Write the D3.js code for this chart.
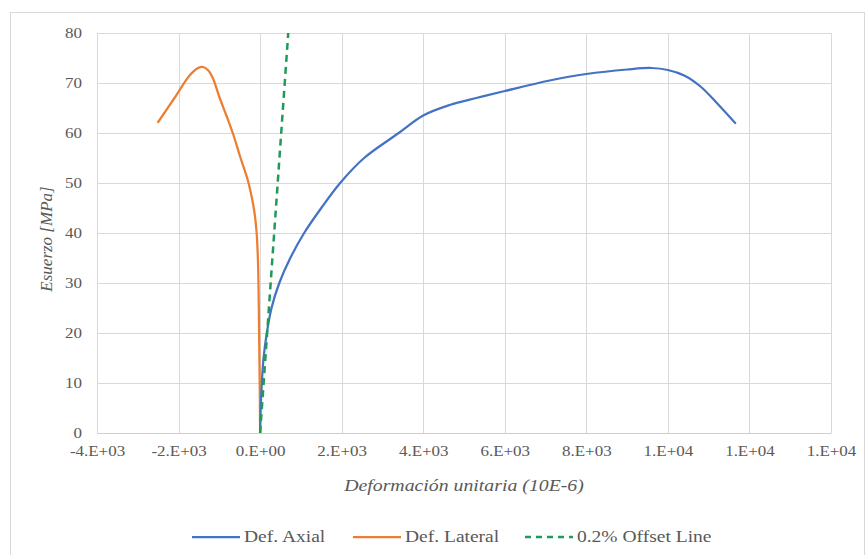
<!DOCTYPE html>
<html>
<head>
<meta charset="utf-8">
<script src="https://cdn.jsdelivr.net/npm/d3@7"></script>
<style>
  html, body { margin: 0; padding: 0; background: #ffffff; }
  svg { display: block; }
  text { font-family: "Liberation Serif", "Times New Roman", serif; }
</style>
</head>
<body>
<svg id="chart" width="866" height="555"></svg>
<script>
// ---- data ----
const xTicks = [-4000, -2000, 0, 2000, 4000, 6000, 8000, 10000, 12000, 14000];
const xTickLabels = ["-4.E+03", "-2.E+03", "0.E+00", "2.E+03", "4.E+03", "6.E+03", "8.E+03", "1.E+04", "1.E+04", "1.E+04"];
const yTicks = [0, 10, 20, 30, 40, 50, 60, 70, 80];
const yTickLabels = ["0", "10", "20", "30", "40", "50", "60", "70", "80"];

const seriesNames = ["Def. Axial", "Def. Lateral", "0.2% Offset Line"];

// Def. Axial: strain (10E-6) and stress (MPa)
const axialStrain = [0, 15, 42, 85, 164, 280, 470, 740, 1080, 1500, 1963, 2550, 3400, 4000, 4650, 5300, 6000, 7100, 8000, 9000, 9600, 10000, 10400, 10800, 11200, 11650];
const axialStress = [0, 5, 10, 15, 20, 25, 30, 35, 40, 45, 50, 55, 60, 63.5, 65.6, 67, 68.4, 70.5, 71.8, 72.7, 73, 72.6, 71.5, 69.3, 66, 62];

// Def. Lateral
const lateralStrain = [0, -10, -25, -40, -55, -85, -125, -170, -240, -300, -491, -650, -818, -1000, -1150, -1270, -1400, -1520, -1720, -2100, -2500];
const lateralStress = [0, 10, 20, 30, 35, 40, 43.3, 45.7, 48.5, 50.5, 55.3, 59.5, 63.3, 67.2, 70.8, 72.5, 73.2, 73, 71.6, 67, 62.2];

// 0.2% Offset Line
const offsetStrain = [0, 690];
const offsetStress = [0, 80];

const colors = ["#4472C4", "#ED7D31", "#1E9B57"];

// ---- layout ----
const svg = d3.select("#chart");
const plot = { left: 97, right: 831, top: 33, bottom: 433 };
const stretch = 1.17;   // reference text is horizontally wide

const x = d3.scaleLinear().domain([-4000, 14000]).range([plot.left, plot.right]);
const y = d3.scaleLinear().domain([0, 80]).range([plot.bottom, plot.top]);

// outer chart border
svg.append("rect")
  .attr("x", 10.5).attr("y", 12.5).attr("width", 854).attr("height", 560)
  .attr("fill", "none").attr("stroke", "#d9d9d9").attr("stroke-width", 1);

// gridlines
svg.append("g").selectAll("line").data(yTicks).join("line")
  .attr("x1", plot.left).attr("x2", plot.right)
  .attr("y1", d => Math.round(y(d)) + 0.5).attr("y2", d => Math.round(y(d)) + 0.5)
  .attr("stroke", "#d9d9d9").attr("stroke-width", 1);
svg.append("g").selectAll("line").data(xTicks).join("line")
  .attr("y1", plot.top).attr("y2", plot.bottom)
  .attr("x1", d => Math.round(x(d)) + 0.5).attr("x2", d => Math.round(x(d)) + 0.5)
  .attr("stroke", "#d9d9d9").attr("stroke-width", 1);

// axes
const xAxis = d3.axisBottom(x).tickValues(xTicks)
  .tickFormat((d, i) => xTickLabels[i]).tickSize(0).tickPadding(13);
const gx = svg.append("g").attr("transform", `translate(0,${plot.bottom})`).call(xAxis);
gx.select(".domain").attr("stroke", "#cfcfcf");
gx.selectAll("text").attr("fill", "#595959").attr("font-size", 14.5)
  .attr("font-family", "Liberation Serif")
  .attr("transform", `scale(${stretch},1)`);

const yAxis = d3.axisLeft(y).tickValues(yTicks)
  .tickFormat((d, i) => yTickLabels[i]).tickSize(0).tickPadding(15 / stretch);
const gy = svg.append("g").attr("transform", `translate(${plot.left},0)`).call(yAxis);
gy.select(".domain").remove();
gy.selectAll("text").attr("fill", "#595959").attr("font-size", 14.5)
  .attr("font-family", "Liberation Serif")
  .attr("transform", `scale(${stretch},1)`);

// axis titles
svg.append("text")
  .attr("transform", `translate(${(plot.left + plot.right) / 2},491) scale(1.2,1)`)
  .attr("text-anchor", "middle").attr("font-size", 16.5).attr("font-style", "italic")
  .attr("fill", "#595959").text("Deformación unitaria (10E-6)");
svg.append("text")
  .attr("transform", `translate(52,${(plot.top + plot.bottom) / 2 + 6}) rotate(-90)`)
  .attr("text-anchor", "middle").attr("font-size", 17).attr("font-style", "italic")
  .attr("fill", "#595959").text("Esuerzo [MPa]");

// series
const smooth = d3.line().x(d => x(d[0])).y(d => y(d[1])).curve(d3.curveCatmullRom.alpha(0.5));
const straight = d3.line().x(d => x(d[0])).y(d => y(d[1]));
const axial = axialStrain.map((v, i) => [v, axialStress[i]]);
const lateral = lateralStrain.map((v, i) => [v, lateralStress[i]]);
const offset = offsetStrain.map((v, i) => [v, offsetStress[i]]);

svg.append("clipPath").attr("id", "pclip").append("rect")
  .attr("x", plot.left).attr("y", plot.top - 2)
  .attr("width", plot.right - plot.left).attr("height", plot.bottom - plot.top + 2);

const gs = svg.append("g").attr("clip-path", "url(#pclip)");
gs.append("path").datum(lateral).attr("d", smooth)
  .attr("fill", "none").attr("stroke", colors[1]).attr("stroke-width", 2.25)
  .attr("stroke-linejoin", "round").attr("stroke-linecap", "round");
gs.append("path").datum(axial).attr("d", smooth)
  .attr("fill", "none").attr("stroke", colors[0]).attr("stroke-width", 2.25)
  .attr("stroke-linejoin", "round").attr("stroke-linecap", "round");
gs.append("path").datum(offset).attr("d", straight)
  .attr("fill", "none").attr("stroke", colors[2]).attr("stroke-width", 2.5)
  .attr("stroke-dasharray", "7,5");

// legend
const legendX = [192, 353, 525];
const lg = svg.append("g");
const ly = 537;
seriesNames.forEach((name, i) => {
  const dashed = i === 2;
  lg.append("line").attr("x1", legendX[i]).attr("x2", legendX[i] + 48)
    .attr("y1", ly).attr("y2", ly)
    .attr("stroke", colors[i]).attr("stroke-width", dashed ? 2.5 : 2.25)
    .attr("stroke-dasharray", dashed ? "6,5" : null);
  lg.append("text")
    .attr("transform", `translate(${legendX[i] + 52},${ly + 5}) scale(1.22,1)`)
    .attr("font-size", 16).attr("fill", "#595959").text(name);
});
</script>
</body>
</html>
